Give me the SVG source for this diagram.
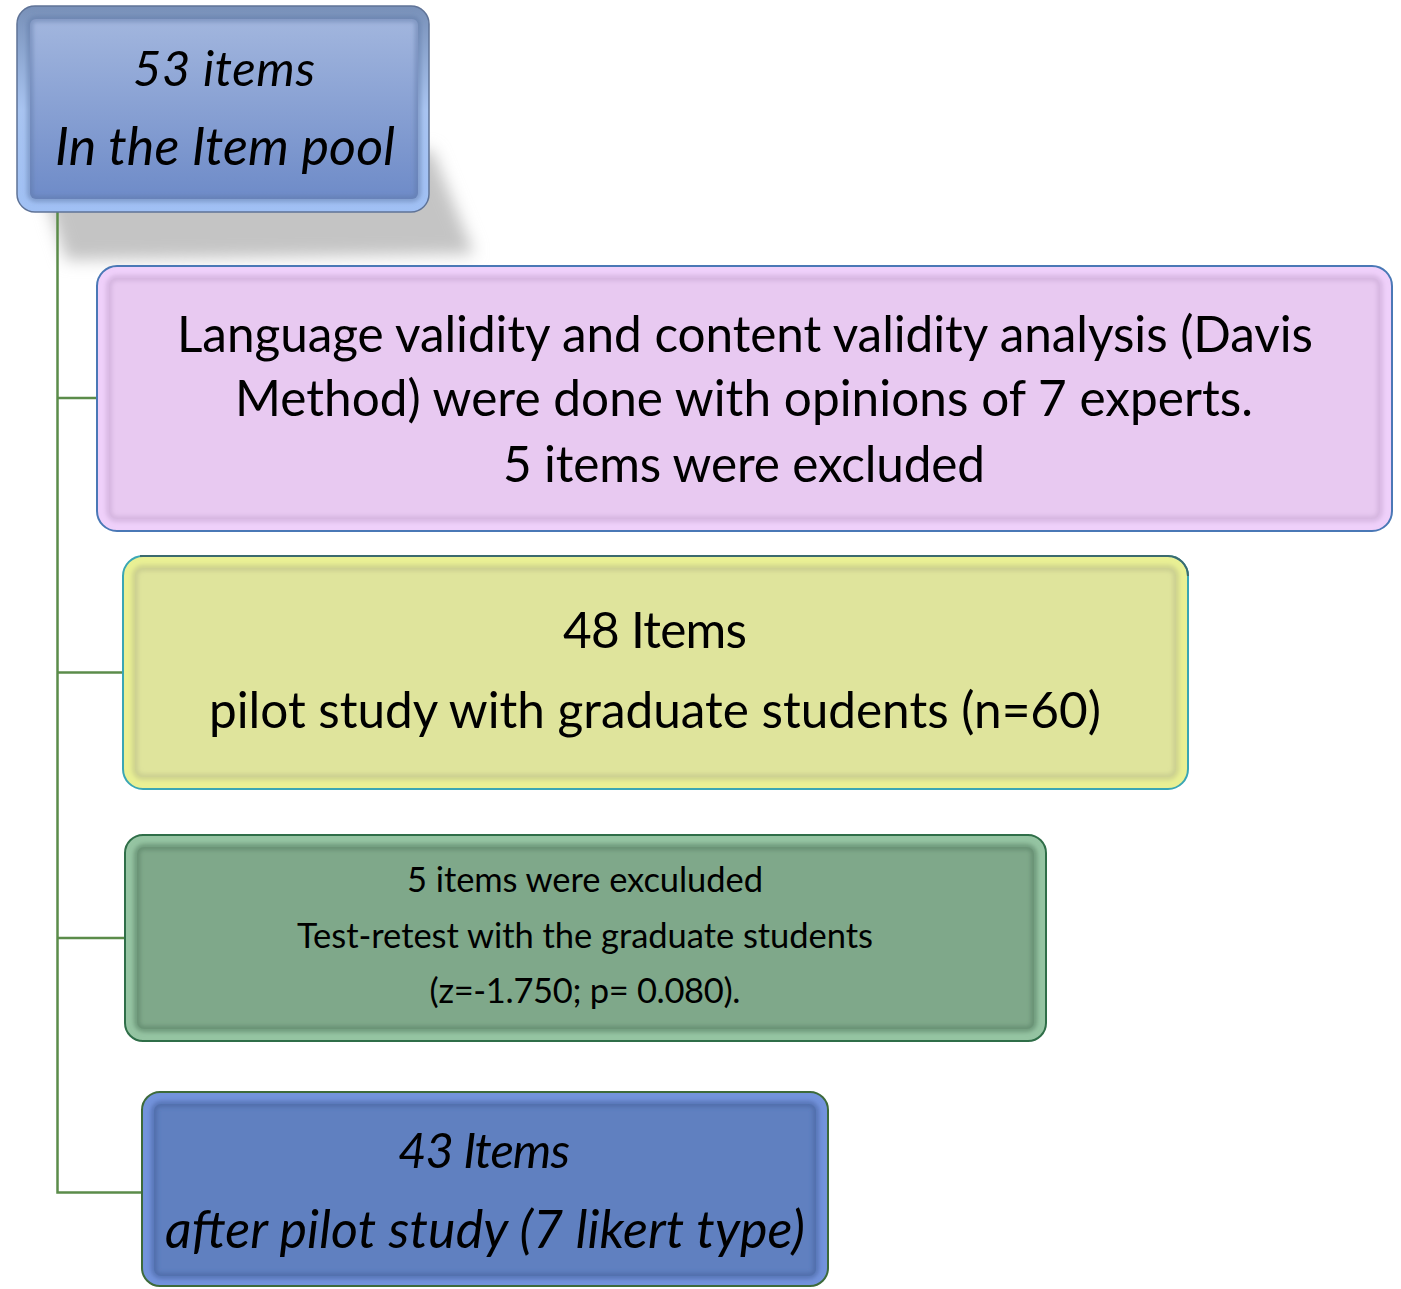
<svg xmlns="http://www.w3.org/2000/svg" width="1401" height="1289" viewBox="0 0 1401 1289">
<style>
text{font-family:Lato,"Liberation Sans",sans-serif;fill:#000;text-anchor:middle}
.it{font-style:italic;font-size:52px}
.its{font-style:italic;font-size:49px}
.big{font-size:49.5px}
.small{font-size:34.5px}
.conn{stroke:#5b8c4a;stroke-width:2.5;fill:none}
.bev{fill:none;stroke-width:6;filter:url(#soft)}
</style>
<defs>
<filter id="soft" x="-5%" y="-5%" width="110%" height="110%"><feGaussianBlur stdDeviation="2"/></filter>
<filter id="shadowBlur" x="-20%" y="-20%" width="140%" height="140%"><feGaussianBlur stdDeviation="8"/></filter>
<linearGradient id="gTop" x1="0" y1="0" x2="0" y2="1"><stop offset="0" stop-color="#a2b6de"/><stop offset="1" stop-color="#6e8bc8"/></linearGradient>
<linearGradient id="gTopRim" x1="0" y1="0" x2="0" y2="1"><stop offset="0" stop-color="#7890b8"/><stop offset="0.5" stop-color="#a8c4f0"/><stop offset="1" stop-color="#a0c0f4"/></linearGradient>
</defs>

<polygon points="30,150 432,150 474,254 66,260" fill="#c4c4c4" filter="url(#shadowBlur)"/>

<g id="connectors">
<path class="conn" d="M57.5,212 V1192.5 H141"/>
<path class="conn" d="M57.5,398 H96"/>
<path class="conn" d="M57.5,672.5 H122"/>
<path class="conn" d="M57.5,938 H124"/>
</g>

<g id="node-pool">
<rect x="17" y="6" width="412" height="206" rx="18" fill="url(#gTopRim)" stroke="#5f7397" stroke-width="1.5"/>
<rect x="30" y="19" width="388" height="180" rx="6" fill="url(#gTop)"/>
<rect class="bev" x="30" y="19" width="388" height="180" rx="6" stroke="#5e76a4" stroke-opacity="0.5"/>
<text class="its" x="224" y="86" textLength="182">53 items</text>
<text class="it" x="225" y="165" textLength="340">In the Item pool</text>
</g>

<g id="node-validity">
<rect x="97" y="266" width="1295" height="265" rx="20" fill="#efd0fa" stroke="#4a78b6" stroke-width="2"/>
<rect x="109" y="278" width="1271" height="241" rx="8" fill="#e8c9f1"/>
<rect class="bev" x="109" y="278" width="1271" height="241" rx="8" stroke="#c8a8d4" stroke-opacity="0.6"/>
<text class="big" x="745" y="352" textLength="1136">Language validity and content validity analysis (Davis</text>
<text class="big" x="744" y="416" textLength="1018">Method) were done with opinions of 7 experts.</text>
<text class="big" x="744" y="482" textLength="482">5 items were excluded</text>
</g>

<g id="node-pilot">
<rect x="123" y="556" width="1065" height="233" rx="20" fill="#e9f094" stroke="#3aa6b4" stroke-width="2"/>
<path d="M140,556 H1168 A20,20 0 0 1 1188,576" fill="none" stroke="#3c6a6e" stroke-width="2"/>
<rect x="135" y="568" width="1041" height="209" rx="8" fill="#dfe49c"/>
<rect class="bev" x="135" y="568" width="1041" height="209" rx="8" stroke="#c2c68a" stroke-opacity="0.7"/>
<text class="big" x="655" y="648" textLength="184">48 Items</text>
<text class="big" x="655" y="728" textLength="892">pilot study with graduate students (n=60)</text>
</g>

<g id="node-retest">
<rect x="125" y="835" width="921" height="206" rx="18" fill="#95c4a2" stroke="#2f6e48" stroke-width="2"/>
<rect x="137" y="847" width="897" height="182" rx="7" fill="#7fa88a"/>
<rect class="bev" x="137" y="847" width="897" height="182" rx="7" stroke="#5d8468" stroke-opacity="0.7"/>
<text class="small" x="585" y="892" textLength="356">5 items were exculuded</text>
<text class="small" x="585" y="948" textLength="576">Test-retest with the graduate students</text>
<text class="small" x="585" y="1003" textLength="311">(z=-1.750; p= 0.080).</text>
</g>

<g id="node-final">
<rect x="142" y="1092" width="686" height="194" rx="18" fill="#7393dc" stroke="#3d6a3a" stroke-width="2"/>
<rect x="154" y="1104" width="662" height="172" rx="7" fill="#6080c0"/>
<rect class="bev" x="154" y="1104" width="662" height="172" rx="7" stroke="#44619c" stroke-opacity="0.6"/>
<text class="its" x="484" y="1168" textLength="172">43 Items</text>
<text class="it" x="485" y="1248" textLength="640">after pilot study (7 likert type)</text>
</g>
</svg>
